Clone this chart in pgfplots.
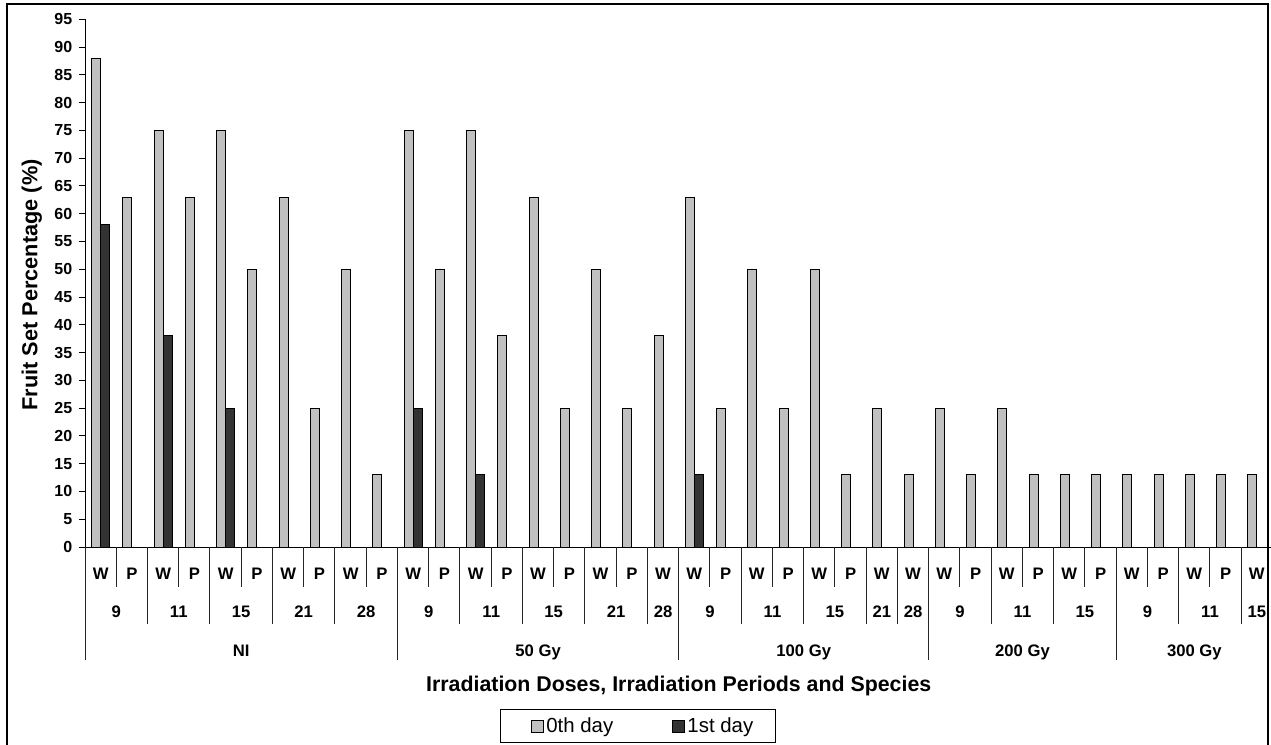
\documentclass[border=0pt]{standalone}
\usepackage{pgfplots}
\pgfplotsset{compat=1.18}
\usepackage{fontspec}
\setmainfont{Liberation Sans}
\definecolor{silverbar}{HTML}{C0C0C0}
\definecolor{darkbar}{HTML}{333333}
\tikzset{
  catlab/.style={font=\fontsize{12.5}{15}\selectfont\bfseries, anchor=base},
  catsep/.style={line width=0.75pt, black!85},
}
\begin{document}
\begin{tikzpicture}
\useasboundingbox (0,0) rectangle (953.25pt,-558pt);
\clip (0,0) rectangle (953.25pt,-558pt);
\begin{scope}[x=0.75pt,y=-0.75pt]
\coordinate (O) at (85,547);
\draw[line width=0.9pt, black] (7,4) rectangle (1268,780);
\node[rotate=90, font=\fontsize{16.3}{19}\selectfont\bfseries] at (31.7,285) {Fruit Set Percentage (\%)};
\node[font=\fontsize{16}{19}\selectfont\bfseries] at (678.7,686) {Irradiation Doses, Irradiation Periods and Species};
\end{scope}
\begin{axis}[
  at={(O)}, anchor=south west, scale only axis,
  width=890.6pt, height=395.8pt,
  xmin=-0.5, xmax=37.5, ymin=0, ymax=95,
  axis x line=bottom, axis y line=left,
  axis line style={-, line width=0.75pt, black},
  tick align=outside, major tick length=4.5pt,
  ytick={0,5,...,95},
  ytick style={line width=0.75pt, black},
  xtick={0,...,37}, xtick style={draw=none},
  xticklabels={W,P,W,P,W,P,W,P,W,P,W,P,W,P,W,P,W,P,W,W,P,W,P,W,P,W,W,W,P,W,P,W,P,W,P,W,P,W},
  yticklabel style={font=\fontsize{12}{14}\selectfont\bfseries, xshift=-1.5pt},
  xticklabel style={font=\fontsize{12.5}{15}\selectfont\bfseries, anchor=base, yshift=-19.7pt},
  /pgf/number format/assume math mode=true,
  clip=false,
  legend columns=2,
  legend style={at={(axis description cs:0.4657,-0.307)}, anchor=north,
    draw=black, line width=0.75pt, font=\fontsize{15.3}{18}\selectfont,
    inner xsep=15pt, inner ysep=4pt,
    /tikz/every even column/.append style={column sep=34pt}},
]
\addplot[ybar, bar width=0.29, bar shift=-0.145, fill=silverbar, draw=black, line width=0.75pt, forget plot] coordinates {
(0,88) (1,63) (2,75) (3,63) (4,75) (5,50) (6,63) (7,25) (8,50) (9,13)
(10,75) (11,50) (12,75) (13,38) (14,63) (15,25) (16,50) (17,25) (18,38)
(19,63) (20,25) (21,50) (22,25) (23,50) (24,13) (25,25) (26,13)
(27,25) (28,13) (29,25) (30,13) (31,13) (32,13)
(33,13) (34,13) (35,13) (36,13) (37,13)
};
\addplot[ybar, bar width=0.29, bar shift=0.145, fill=darkbar, draw=black, line width=0.75pt, forget plot] coordinates {
(0,58) (2,38) (4,25) (10,25) (12,13) (19,13)
};
\addlegendimage{legend image code/.code={\path (0pt,0pt); \draw[fill=silverbar, draw=black, line width=0.6pt] (8pt,-4.5pt) rectangle (17pt,4.5pt);}}
\addlegendentry{0th day}
\addlegendimage{legend image code/.code={\path (0pt,0pt); \draw[fill=darkbar, draw=black, line width=0.6pt] (8pt,-4.5pt) rectangle (17pt,4.5pt);}}
\addlegendentry{1st day}
% separators
\pgfplotsinvokeforeach{0.5,2.5,4.5,6.5,8.5,10.5,12.5,14.5,16.5,19.5,21.5,23.5,27.5,29.5,31.5,33.5,35.5}{
  \draw[catsep] (axis cs:#1,0) -- ++(0pt,-30pt);
}
\pgfplotsinvokeforeach{1.5,3.5,5.5,7.5,11.5,13.5,15.5,17.5,20.5,22.5,24.5,25.5,28.5,30.5,34.5,36.5}{
  \draw[catsep] (axis cs:#1,0) -- ++(0pt,-57.75pt);
}
\pgfplotsinvokeforeach{-0.5,9.5,18.5,26.5,32.5}{
  \draw[catsep] (axis cs:#1,0) -- ++(0pt,-84.75pt);
}
% period labels
\node[catlab] at (axis cs:0.5,0) [yshift=-52.5pt] {9};
\node[catlab] at (axis cs:2.5,0) [yshift=-52.5pt] {11};
\node[catlab] at (axis cs:4.5,0) [yshift=-52.5pt] {15};
\node[catlab] at (axis cs:6.5,0) [yshift=-52.5pt] {21};
\node[catlab] at (axis cs:8.5,0) [yshift=-52.5pt] {28};
\node[catlab] at (axis cs:10.5,0) [yshift=-52.5pt] {9};
\node[catlab] at (axis cs:12.5,0) [yshift=-52.5pt] {11};
\node[catlab] at (axis cs:14.5,0) [yshift=-52.5pt] {15};
\node[catlab] at (axis cs:16.5,0) [yshift=-52.5pt] {21};
\node[catlab] at (axis cs:18,0) [yshift=-52.5pt] {28};
\node[catlab] at (axis cs:19.5,0) [yshift=-52.5pt] {9};
\node[catlab] at (axis cs:21.5,0) [yshift=-52.5pt] {11};
\node[catlab] at (axis cs:23.5,0) [yshift=-52.5pt] {15};
\node[catlab] at (axis cs:25,0) [yshift=-52.5pt] {21};
\node[catlab] at (axis cs:26,0) [yshift=-52.5pt] {28};
\node[catlab] at (axis cs:27.5,0) [yshift=-52.5pt] {9};
\node[catlab] at (axis cs:29.5,0) [yshift=-52.5pt] {11};
\node[catlab] at (axis cs:31.5,0) [yshift=-52.5pt] {15};
\node[catlab] at (axis cs:33.5,0) [yshift=-52.5pt] {9};
\node[catlab] at (axis cs:35.5,0) [yshift=-52.5pt] {11};
\node[catlab] at (axis cs:37,0) [yshift=-52.5pt] {15};
% dose labels
\node[catlab] at (axis cs:4.5,0) [yshift=-82pt] {NI};
\node[catlab] at (axis cs:14,0) [yshift=-82pt] {50 Gy};
\node[catlab] at (axis cs:22.5,0) [yshift=-82pt] {100 Gy};
\node[catlab] at (axis cs:29.5,0) [yshift=-82pt] {200 Gy};
\node[catlab] at (axis cs:35,0) [yshift=-82pt] {300 Gy};
\end{axis}
\end{tikzpicture}
\end{document}
